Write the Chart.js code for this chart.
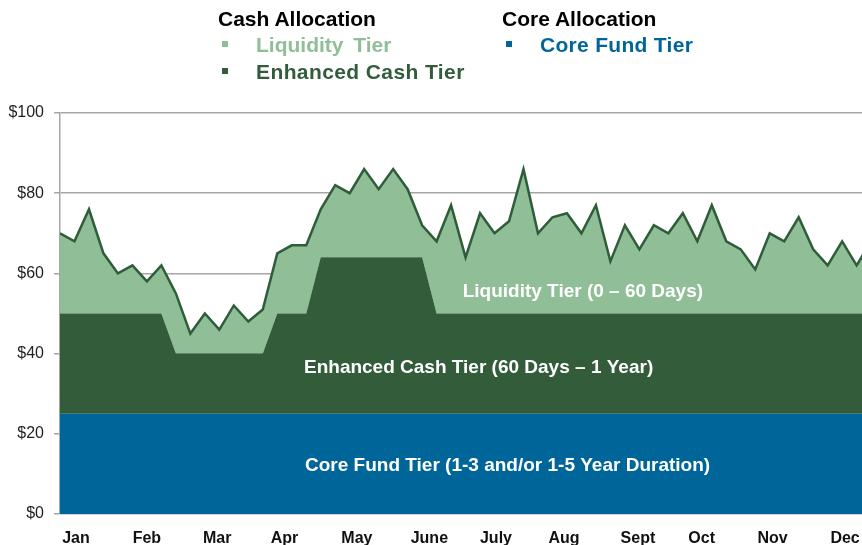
<!DOCTYPE html>
<html>
<head>
<meta charset="utf-8">
<script src="https://cdn.jsdelivr.net/npm/chart.js@4"></script>
<style>
  html, body { margin: 0; padding: 0; background: #ffffff; overflow: hidden; }
  #wrap { position: relative; width: 862px; height: 545px; font-family: "Liberation Sans", Arial, sans-serif; }
  #chart { position: absolute; left: 0; top: 0; }
  .lg { position: absolute; font-weight: bold; white-space: nowrap; line-height: 1; }
  .hd { font-size: 21px; color: #000000; }
  .it { font-size: 21px; }
  .sq { position: absolute; width: 6px; height: 6px; }
</style>
</head>
<body>
<div id="wrap">
  <canvas id="chart" width="862" height="545"></canvas>
  <div class="lg hd" style="left:218px; top:8px;">Cash Allocation</div>
  <div class="sq" style="left:222px; top:41px; background:#8fbe97;"></div>
  <div class="lg it" style="left:256px; top:34px; color:#8fbe97; word-spacing:4px;">Liquidity Tier</div>
  <div class="sq" style="left:222px; top:68px; background:#335c3b;"></div>
  <div class="lg it" style="left:256px; top:61px; color:#335c3b; letter-spacing:0.4px;">Enhanced Cash Tier</div>
  <div class="lg hd" style="left:502px; top:8px;">Core Allocation</div>
  <div class="sq" style="left:506px; top:41px; background:#006699;"></div>
  <div class="lg it" style="left:540px; top:34px; color:#006699; letter-spacing:0.3px;">Core Fund Tier</div>
</div>
<script>
// ---- data (weekly points, $ amounts) ----
const monthNames = ['Jan', 'Feb', 'Mar', 'Apr', 'May', 'June', 'July', 'Aug', 'Sept', 'Oct', 'Nov', 'Dec'];
// where each month label sits, in week index units
const monthPos = [1.1, 6.0, 10.85, 15.5, 20.5, 25.5, 30.1, 34.8, 39.9, 44.3, 49.2, 54.2];

// top of the liquidity tier (total cash + core)
const totalTop = [70, 68, 76, 65, 60, 62, 58, 62, 55, 45, 50, 46, 52, 48, 51, 65, 67, 67, 76, 82,
                  80, 86, 81, 86, 81, 72, 68, 77, 64, 75, 70, 73, 86, 70, 74, 75, 70, 77, 63, 72,
                  66, 72, 70, 75, 68, 77, 68, 66, 61, 70, 68, 74, 66, 62, 68, 62, 68];
// top of the enhanced cash tier
const enhancedTop = [50, 50, 50, 50, 50, 50, 50, 50, 40, 40, 40, 40, 40, 40, 40, 50, 50, 50, 64, 64,
                     64, 64, 64, 64, 64, 64, 50, 50, 50, 50, 50, 50, 50, 50, 50, 50, 50, 50, 50, 50,
                     50, 50, 50, 50, 50, 50, 50, 50, 50, 50, 50, 50, 50, 50, 50, 50, 50];
// top of the core fund tier
const coreTop = [25, 25, 25, 25, 25, 25, 25, 25, 25, 25, 25, 25, 25, 25, 25, 25, 25, 25, 25, 25,
                 25, 25, 25, 25, 25, 25, 25, 25, 25, 25, 25, 25, 25, 25, 25, 25, 25, 25, 25, 25,
                 25, 25, 25, 25, 25, 25, 25, 25, 25, 25, 25, 25, 25, 25, 25, 25, 25];

const yTicks = [0, 20, 40, 60, 80, 100];

// labels written inside the areas: [text, x (week), y ($)]
const areaLabels = [
    ['Liquidity Tier (0 \u2013 60 Days)', 36.1, 55.3],
    ['Enhanced Cash Tier (60 Days \u2013 1 Year)', 28.9, 36.4],
    ['Core Fund Tier (1-3 and/or 1-5 Year Duration)', 30.9, 12]
];

const toXY = arr => arr.map((v, i) => ({ x: i, y: v }));

const areaLabelPlugin = {
    id: 'areaLabels',
    afterDatasetsDraw(chart) {
        const { ctx, scales } = chart;
        ctx.save();
        ctx.fillStyle = '#ffffff';
        ctx.font = 'bold 19px "Liberation Sans", Arial, sans-serif';
        ctx.textAlign = 'center';
        ctx.textBaseline = 'middle';
        areaLabels.forEach(l => {
            ctx.fillText(l[0], scales.x.getPixelForValue(l[1]), scales.y.getPixelForValue(l[2]));
        });
        ctx.restore();
    }
};

new Chart(document.getElementById('chart').getContext('2d'), {
    type: 'line',
    data: {
        datasets: [
            {
                label: 'Core Fund Tier',
                data: toXY(coreTop),
                borderWidth: 0,
                backgroundColor: '#006699',
                fill: 'origin',
                pointRadius: 0
            },
            {
                label: 'Enhanced Cash Tier',
                data: toXY(enhancedTop),
                borderWidth: 0,
                backgroundColor: '#335c3b',
                fill: '-1',
                pointRadius: 0
            },
            {
                label: 'Liquidity Tier',
                data: toXY(totalTop),
                borderWidth: 2.5,
                borderColor: '#2f5d3a',
                backgroundColor: '#8fbe97',
                fill: '-1',
                pointRadius: 0
            }
        ]
    },
    options: {
        responsive: false,
        animation: false,
        layout: { padding: { top: 113, right: 0, bottom: 0, left: 0 } },
        plugins: {
            legend: { display: false },
            tooltip: { enabled: false }
        },
        scales: {
            x: {
                type: 'linear',
                min: 0,
                max: 55.37,
                grid: { display: false, drawTicks: false },
                border: { display: false },
                afterBuildTicks: scale => { scale.ticks = monthPos.map(v => ({ value: v })); },
                afterFit: scale => { scale.height = 31; scale.paddingRight = 0; scale.paddingLeft = 0; },
                ticks: {
                    autoSkip: false,
                    maxRotation: 0,
                    padding: 15,
                    color: '#111111',
                    font: { family: '"Liberation Sans Narrow", "Liberation Sans", Arial, sans-serif', size: 16, weight: 'bold' },
                    callback: (v, i) => monthNames[i]
                }
            },
            y: {
                min: 0,
                max: 100,
                afterBuildTicks: scale => { scale.ticks = yTicks.map(v => ({ value: v })); },
                afterFit: scale => { scale.width = 60; scale.paddingTop = 0; scale.paddingBottom = 0; },
                grid: { color: '#a6a6a6', lineWidth: 1.5, tickLength: 6, tickColor: '#a6a6a6' },
                border: { display: true, color: '#a6a6a6', width: 1.5 },
                ticks: {
                    padding: 10,
                    color: '#222222',
                    font: { family: '"Liberation Sans", Arial, sans-serif', size: 16 },
                    callback: v => '$' + v
                }
            }
        }
    },
    plugins: [areaLabelPlugin]
});
</script>
</body>
</html>
